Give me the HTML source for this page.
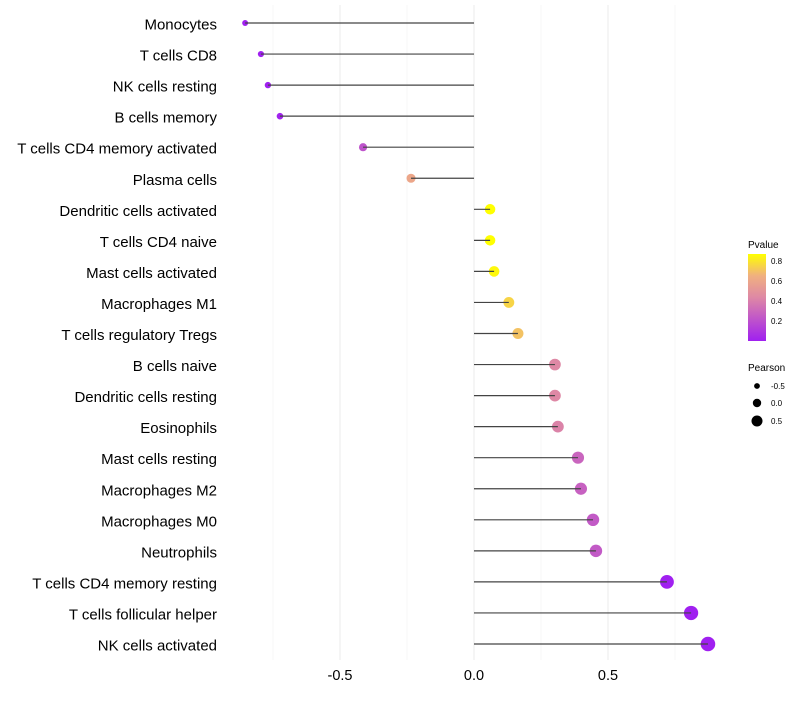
<!DOCTYPE html>
<html><head><meta charset="utf-8"><style>
body{margin:0;background:#fff;font-family:"Liberation Sans",sans-serif;}
</style></head><body>
<svg id="chart" width="800" height="700" xmlns="http://www.w3.org/2000/svg">
<defs><linearGradient id="pg" x1="0" y1="1" x2="0" y2="0">
<stop offset="0" stop-color="#a020f0"/><stop offset="0.5" stop-color="#de88a5"/><stop offset="0.75" stop-color="#f0b080"/><stop offset="1" stop-color="#ffff00"/></linearGradient></defs>
<g id="grid"></g><g id="points"></g><g id="marks"></g><g id="labels"></g>
<g font-size="10" fill="#000">
<text x="748" y="248">Pvalue</text>
<rect x="748" y="254" width="18" height="87" fill="url(#pg)"/>
<g font-size="8"><text x="771" y="264">0.8</text><text x="771" y="284">0.6</text><text x="771" y="304">0.4</text><text x="771" y="324">0.2</text></g>
<text x="748" y="371">Pearson</text>
<circle cx="757" cy="386" r="2.9"/><circle cx="757" cy="403" r="4.2"/><circle cx="757" cy="421" r="5.5"/>
<g font-size="8"><text x="771" y="389">-0.5</text><text x="771" y="406">0.0</text><text x="771" y="424">0.5</text></g>
</g>
</svg>
<script>
const categories=["Monocytes","T cells CD8","NK cells resting","B cells memory","T cells CD4 memory activated","Plasma cells","Dendritic cells activated","T cells CD4 naive","Mast cells activated","Macrophages M1","T cells regulatory  Tregs","B cells naive","Dendritic cells resting","Eosinophils","Mast cells resting","Macrophages M2","Macrophages M0","Neutrophils","T cells CD4 memory resting","T cells follicular helper","NK cells activated"];
const pearson=[-0.854,-0.795,-0.769,-0.724,-0.414,-0.235,0.06,0.06,0.075,0.13,0.164,0.302,0.302,0.313,0.388,0.399,0.444,0.455,0.72,0.81,0.873];
const pvalue=[0.0,0.0,0.0,0.01,0.22,0.6,0.88,0.88,0.85,0.75,0.7,0.45,0.45,0.43,0.3,0.28,0.25,0.25,0.0,0.0,0.0];
const xTicks=[-0.5,0.0,0.5];
const xTickLabels=["-0.5","0.0","0.5"];
const NS="http://www.w3.org/2000/svg";
const x=v=>474+v*268;
const y=i=>23+i*31.05;
const r=v=>5.1+2.5*v;
function lerp(a,b,t){return a.map((c,k)=>Math.round(c+(b[k]-c)*t));}
const stops=[[0,[160,32,240]],[0.45,[222,136,165]],[0.65,[240,176,128]],[0.87,[255,255,0]]];
function col(p){p=Math.max(0,Math.min(0.87,p));for(let k=1;k<stops.length;k++){if(p<=stops[k][0]){const t=(p-stops[k-1][0])/(stops[k][0]-stops[k-1][0]);return "rgb("+lerp(stops[k-1][1],stops[k][1],t).join(",")+")";}}return "rgb(255,255,0)";}
function mk(tag,at,parent){const e=document.createElementNS(NS,tag);for(const k in at)e.setAttribute(k,at[k]);document.getElementById(parent).appendChild(e);return e;}
[-0.75,-0.25,0.25,0.75].forEach(v=>{const g=mk("line",{x1:x(v),x2:x(v),y1:5,y2:660,stroke:"#f2f2f2","stroke-width":0.6},"grid");

});
xTicks.forEach((v,i)=>{const g=mk("line",{x1:x(v),x2:x(v),y1:5,y2:660,stroke:"#ebebeb","stroke-width":1},"grid");


const t=mk("text",{x:x(v),y:680,"text-anchor":"middle","font-size":14.5,fill:"#000"},"labels");t.textContent=xTickLabels[i];

});
categories.forEach((c,i)=>{
const d=mk("circle",{cx:x(pearson[i]),cy:y(i),r:Math.max(2,r(pearson[i])),fill:col(pvalue[i])},"points");


const l=mk("line",{x1:x(0),x2:x(pearson[i]),y1:y(i),y2:y(i),stroke:"#444","stroke-width":1.2},"marks");


const t=mk("text",{x:217,y:y(i)+6.5,"text-anchor":"end","font-size":15,fill:"#000"},"labels");t.textContent=c;


});
</script>
</body></html>
